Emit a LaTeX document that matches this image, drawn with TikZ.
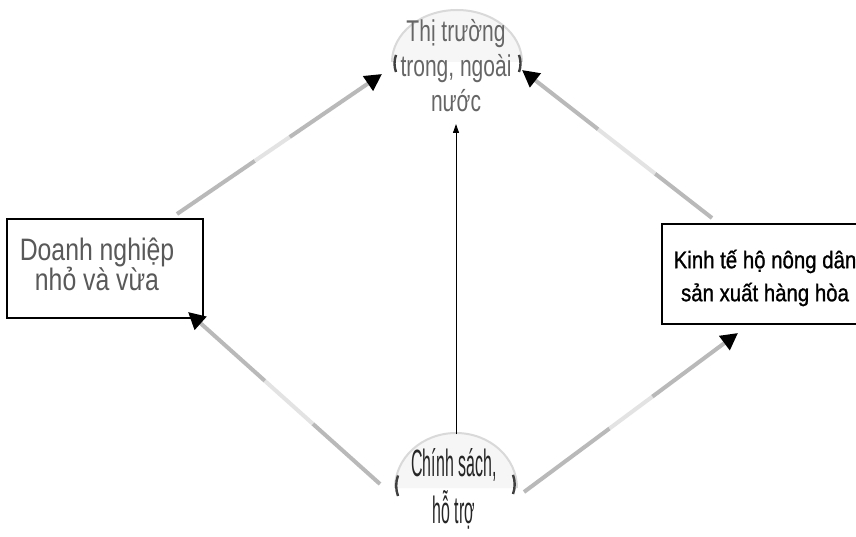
\documentclass[tikz,border=0pt]{standalone}
\usepackage{fontspec}
\setmainfont{Liberation Sans}
\newfontfamily\fdn[FakeStretch=0.8]{Liberation Sans}
\newfontfamily\fkt[FakeStretch=0.85,FakeBold=1]{Liberation Sans}
\newfontfamily\ftop[FakeStretch=0.7]{Liberation Sans}
\newfontfamily\fbot[FakeStretch=0.42]{Liberation Sans}
\usetikzlibrary{arrows.meta,calc}
\begin{document}
\begin{tikzpicture}[x=1pt,y=-1pt,
  boxnode/.style={draw=black,line width=1.1pt,inner sep=0pt},
  labeltext/.style={align=center,inner sep=0pt},
  domefill/.style={fill=gray!7,draw=gray!30,line width=2pt},
  domemark/.style={draw=black!75,line width=2.4pt},
  flowdark/.style={draw=gray!55,line width=4pt},
  flowlight/.style={draw=gray!22,line width=4pt},
  headtip/.style={-{Triangle[length=17pt,width=17pt,color=black]}},
  thinarrow/.style={draw=black,line width=0.9pt,-{Triangle[length=9pt,width=6pt]}}
]
\useasboundingbox (0,0) rectangle (856,537);
\clip (0,0) rectangle (856,537);
\fill[white] (0,0) rectangle (856,537);

% top dome
\path[domefill] (392,62) arc[start angle=180,end angle=360,x radius=65,y radius=52];
\draw[domemark] (396,72) arc[start angle=160,end angle=200,radius=25];
\draw[domemark] (519,72) arc[start angle=20,end angle=-20,radius=25];
\node[labeltext,text=black!60,font=\ftop\fontsize{30}{35}\selectfont] (tt) at (456,66)
  {Thị trường\\trong, ngoài\\nước};

% bottom dome
\path[domefill] (395,488) arc[start angle=180,end angle=360,x radius=61,y radius=55];
\draw[domemark] (398,496) arc[start angle=160,end angle=200,radius=30];
\draw[domemark] (513,494) arc[start angle=20,end angle=-20,radius=28];
\node[labeltext,text=black!85,font=\fbot\fontsize{38}{47}\selectfont] (cs) at (454,489)
  {Chính sách,\\hỗ trợ};

% boxes
\node[boxnode,minimum width=196pt,minimum height=99pt] (dn) at (105,268.5) {};
\node[labeltext,text=black!65,font=\fdn\fontsize{31}{30}\selectfont] (dnt) at (97,264)
  {Doanh nghiệp\\nhỏ và vừa};
\node[boxnode,minimum width=208pt,minimum height=100pt] (kt) at (766,274) {};
\node[labeltext,text=black,font=\fkt\fontsize{24}{33}\selectfont] (ktt) at (765,278)
  {Kinh tế hộ nông dân\\sản xuất hàng hòa};

% connector end points
\coordinate (a1) at (177,214);
\coordinate (b1) at (382,74);
\coordinate (a2) at (712,218);
\coordinate (b2) at (522,70);
\coordinate (a3) at (380,484);
\coordinate (b3) at (188,312);
\coordinate (a4) at (524,492);
\coordinate (b4) at (738,333);
\coordinate (a5) at (456,434);
\coordinate (b5) at (456,124);

% dn -> tt
\draw[flowdark] (a1) -- ($(a1)!0.38!(b1)$);
\draw[flowlight] ($(a1)!0.38!(b1)$) -- ($(a1)!0.55!(b1)$);
\draw[flowdark,headtip] ($(a1)!0.55!(b1)$) -- (b1);
% kt -> tt
\draw[flowdark] (a2) -- ($(a2)!0.3!(b2)$);
\draw[flowlight] ($(a2)!0.3!(b2)$) -- ($(a2)!0.6!(b2)$);
\draw[flowdark,headtip] ($(a2)!0.6!(b2)$) -- (b2);
% cs -> dn
\draw[flowdark] (a3) -- ($(a3)!0.35!(b3)$);
\draw[flowlight] ($(a3)!0.35!(b3)$) -- ($(a3)!0.6!(b3)$);
\draw[flowdark,headtip] ($(a3)!0.6!(b3)$) -- (b3);
% cs -> kt
\draw[flowdark] (a4) -- ($(a4)!0.4!(b4)$);
\draw[flowlight] ($(a4)!0.4!(b4)$) -- ($(a4)!0.6!(b4)$);
\draw[flowdark,headtip] ($(a4)!0.6!(b4)$) -- (b4);
% cs -> tt
\draw[thinarrow] (a5) -- (b5);
\end{tikzpicture}
\end{document}
